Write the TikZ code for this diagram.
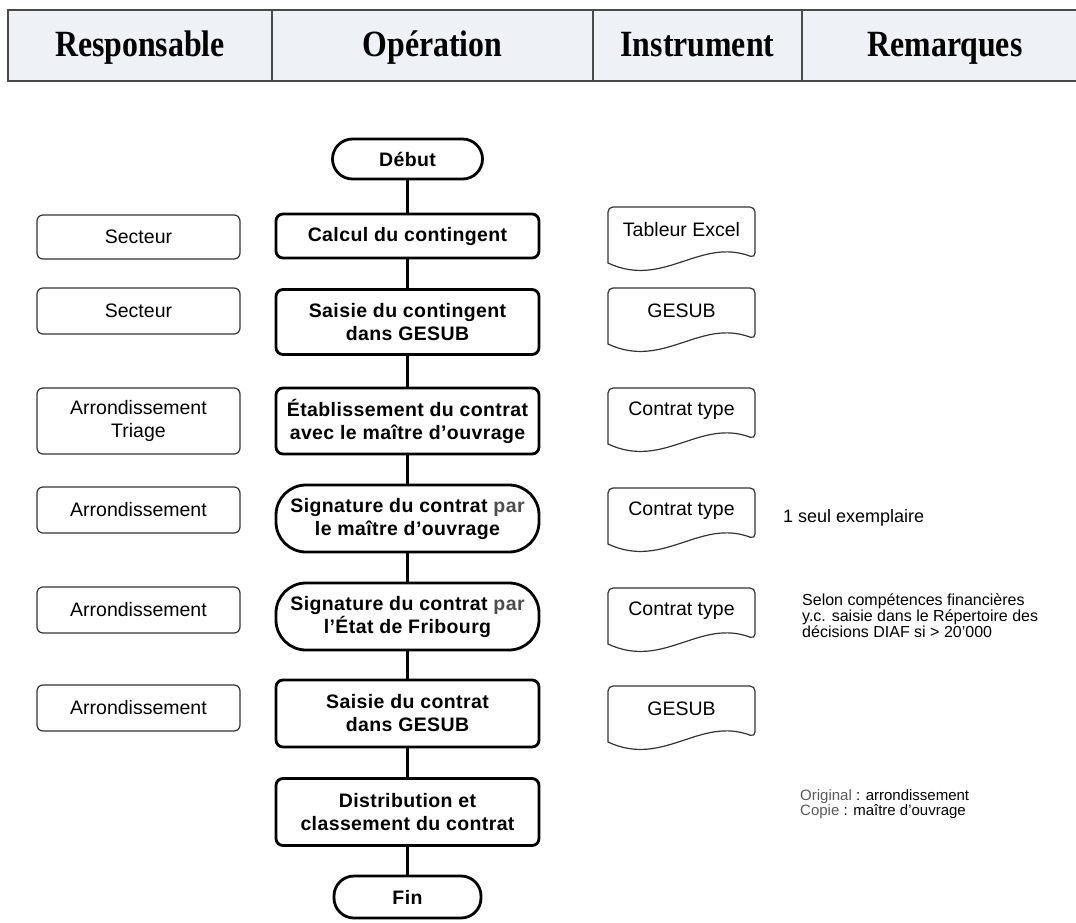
\documentclass[tikz,border=0pt]{standalone}
\usepackage{fontspec}
\setmainfont{Liberation Sans}
\newfontfamily\hdrfont{Liberation Serif}[FakeStretch=0.86]
\newfontfamily\opfam{Liberation Sans}[LetterSpace=2]
\definecolor{hdrfill}{HTML}{EEF1F5}
\definecolor{hdrline}{HTML}{4A4A4A}
\definecolor{boxline}{HTML}{333333}
\tikzset{
  hdrtext/.style={anchor=base, font=\hdrfont\bfseries\fontsize{37}{38}\selectfont},
  opbox/.style={draw=black, line width=2.8pt, rounded corners=7pt, minimum width=263pt,
     align=center, inner sep=0pt, font=\opfam\bfseries\fontsize{19.5}{23}\selectfont},
  term/.style={opbox, rounded corners=20pt},
  sigbox/.style={opbox, rounded corners=30pt},
  respbox/.style={draw=boxline, line width=1.2pt, rounded corners=6pt, minimum width=203pt,
     align=center, inner sep=0pt, font=\fontsize{19.5}{22.5}\selectfont},
  doctext/.style={align=center, inner sep=0pt, font=\fontsize{19.5}{22.5}\selectfont},
  docline/.style={draw=boxline, line width=1.2pt},
  docpic/.pic={\draw[docline, rounded corners=5pt] (-73.5,56) -- (-73.5,0) -- (73.5,0) -- (73.5,51)
      [sharp corners] .. controls (18,30) and (-18,82) .. (-73.5,56) -- cycle;},
  remark/.style={anchor=west, align=left, inner sep=0pt, font=\fontsize{16}{16}\selectfont},
  conn/.style={draw=black, line width=2.8pt}
}
\begin{document}
\begin{tikzpicture}[x=1pt,y=-1pt]
\useasboundingbox (0,0) rectangle (1076,923);
% header
\fill[hdrfill] (8,10) rectangle (1080,81);
\draw[hdrline, line width=2pt] (1080,10) -- (8,10) -- (8,81) -- (1080,81);
\draw[hdrline, line width=1.8pt] (272,10) -- (272,81) (593,10) -- (593,81) (802,10) -- (802,81);
\node[hdrtext] (h1) at (140,57) {Responsable};
\node[hdrtext] (h2) at (432.5,57) {Opération};
\node[hdrtext] (h3) at (697.5,57) {Instrument};
\node[hdrtext] (h4) at (945,57) {Remarques};
% operations
\node[term, minimum width=150pt, minimum height=40pt] (debut) at (407.5,159) {Début};
\node[opbox, minimum height=44pt] (calc) at (407.5,236) {Calcul du contingent};
\node[opbox, minimum height=65pt] (saisie1) at (407.5,322) {Saisie du contingent\\dans GESUB};
\node[opbox, minimum height=66pt] (etab) at (407.5,421) {Établissement du contrat\\avec le maître d’ouvrage};
\node[sigbox, minimum height=67pt] (sig1) at (407.5,518.5) {Signature du contrat {\color{black!70}par}\\le maître d’ouvrage};
\node[sigbox, minimum height=67pt] (sig2) at (407.5,616.5) {Signature du contrat {\color{black!70}par}\\l’État de Fribourg};
\node[opbox, minimum height=67pt] (saisie2) at (407.5,713.5) {Saisie du contrat\\dans GESUB};
\node[opbox, minimum height=67pt] (distrib) at (407.5,812) {Distribution et\\classement du contrat};
\node[term, minimum width=147pt, minimum height=42pt] (fin) at (407.5,897) {Fin};
\draw[conn] (debut) -- (calc);
\draw[conn] (calc) -- (saisie1);
\draw[conn] (saisie1) -- (etab);
\draw[conn] (etab) -- (sig1);
\draw[conn] (sig1) -- (sig2);
\draw[conn] (sig2) -- (saisie2);
\draw[conn] (saisie2) -- (distrib);
\draw[conn] (distrib) -- (fin);
% responsables
\node[respbox, minimum height=44pt] (r1) at (138.5,237) {Secteur};
\node[respbox, minimum height=46pt] (r2) at (138.5,311) {Secteur};
\node[respbox, minimum height=66pt] (r3) at (138.5,421) {Arrondissement\\Triage};
\node[respbox, minimum height=46pt] (r4) at (138.5,510) {Arrondissement};
\node[respbox, minimum height=46pt] (r5) at (138.5,610) {Arrondissement};
\node[respbox, minimum height=46pt] (r6) at (138.5,708) {Arrondissement};
% instruments
\pic at (681.5,207) {docpic};
\node[doctext] (i1) at (681.5,230) {Tableur Excel};
\pic at (681.5,288) {docpic};
\node[doctext] (i2) at (681.5,311) {GESUB};
\pic at (681.5,388) {docpic};
\node[doctext] (i3) at (681.5,411) {Contrat type};
\pic at (681.5,488) {docpic};
\node[doctext] (i4) at (681.5,511) {Contrat type};
\pic at (681.5,588) {docpic};
\node[doctext] (i5) at (681.5,611) {Contrat type};
\pic at (681.5,686) {docpic};
\node[doctext] (i6) at (681.5,709) {GESUB};
% remarks
\node[remark, font=\fontsize{18}{18}\selectfont] (m1) at (783,518) {1 seul exemplaire};
\node[remark] (m2) at (802,616) {Selon compétences financières\\y.c. saisie dans le Répertoire des\\décisions DIAF si > 20'000};
\node[remark, font=\fontsize{15}{15}\selectfont] (m3) at (800,804) {{\color{black!65}Original} : arrondissement\\{\color{black!65}Copie} : maître d’ouvrage};
\end{tikzpicture}
\end{document}
